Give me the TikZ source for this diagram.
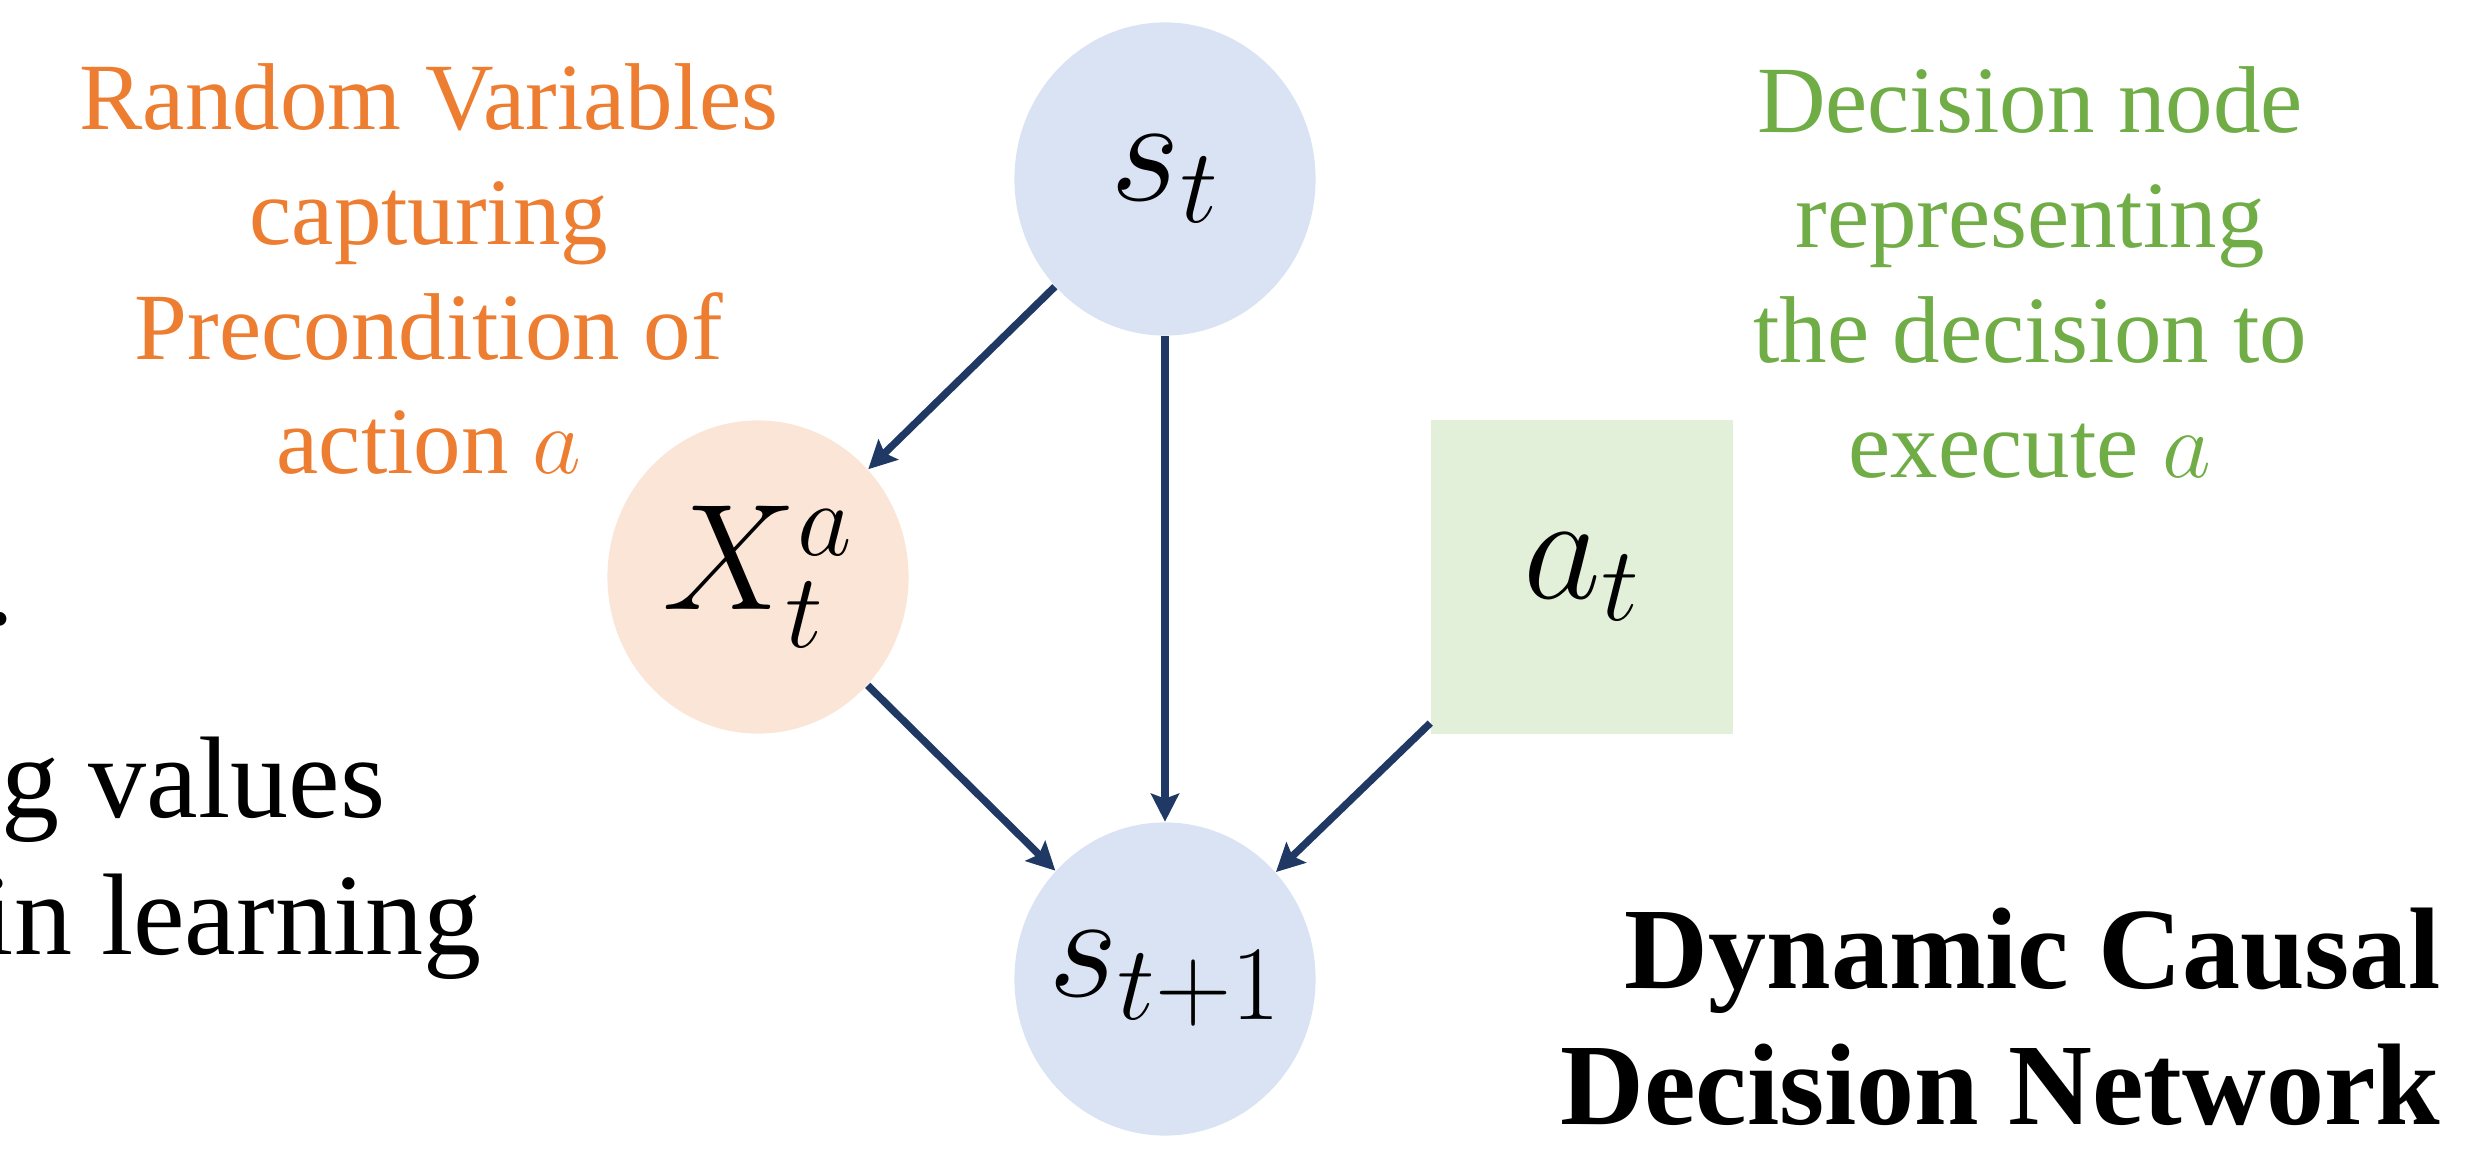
\RequirePackage{fix-cm}
\documentclass[tikz,border=0pt]{standalone}
\usepackage{fontspec}
\setmainfont{Liberation Serif}
\usepackage{xcolor}
\usepackage{tikz}
\usetikzlibrary{shapes.geometric, arrows.meta}

\definecolor{stateblue}{HTML}{DAE3F3}
\definecolor{preorange}{HTML}{FBE5D6}
\definecolor{decgreen}{HTML}{E2F0D9}
\definecolor{txtorange}{HTML}{ED7D31}
\definecolor{txtgreen}{HTML}{70AD47}
\definecolor{arrnavy}{HTML}{203864}

% math label that does not widen its node
\newcommand{\varlbl}[1]{\makebox[0pt]{$#1$}}

\begin{document}
\begin{tikzpicture}[
        x=0.01cm, y=-0.01cm,
        var/.style={ellipse, fill=#1, minimum width=3.01cm, minimum height=3.13cm, inner sep=0pt, font=\fontsize{43}{52}\selectfont},
        decision/.style={rectangle, fill=decgreen, minimum width=3.02cm, minimum height=3.14cm, inner sep=0pt, font=\fontsize{43}{52}\selectfont},
        note/.style={align=center, inner sep=0pt, font=\fontsize{27}{32.7}\selectfont},
        body/.style={inner sep=0pt, anchor=base east, font=\fontsize{33}{39.6}\selectfont},
        arr/.style={-{Stealth[length=0.28cm, width=0.28cm, inset=0.05cm]}, line width=2.1pt, draw=arrnavy}
    ]
    \useasboundingbox (0,0) rectangle (2473,1149);
    \clip (0,0) rectangle (2473,1149);

    \node[var=stateblue] (st) at (1165,179) {\varlbl{s_t}};
    \node[var=preorange] (xa) at (758,577) {\varlbl{X_t^a}};
    \node[decision] (at) at (1582,577) {\varlbl{a_t}};
    \node[var=stateblue] (snext) at (1165,979) {\varlbl{s_{t+1}}};

    \draw[arr] (st) -- (xa);
    \draw[arr] (st) -- (snext);
    \draw[arr] (xa) -- (snext);
    \draw[arr] (at) -- (snext);

    % Side labels (anchored at the last line)
    \node[note, text=txtorange, anchor=base] (pre) at (429,474) {Random Variables\\capturing\\Precondition of\\action $a$};
    \node[note, text=txtgreen, anchor=base] (dec) at (2030,477) {Decision node\\representing\\the decision to\\execute $a$};

    % Cut-off text on the left
    \node[body] (dot) at (15,624) {.};
    \node[body] (vals) at (386,817) {g values};
    \node[body] (learn) at (482,954) {in learning};

    \node[inner sep=0pt, anchor=base east, align=right, font=\fontsize{33}{38.6}\selectfont\bfseries] (title) at (2441,1124) {Dynamic Causal\\Decision Network};
\end{tikzpicture}
\end{document}
